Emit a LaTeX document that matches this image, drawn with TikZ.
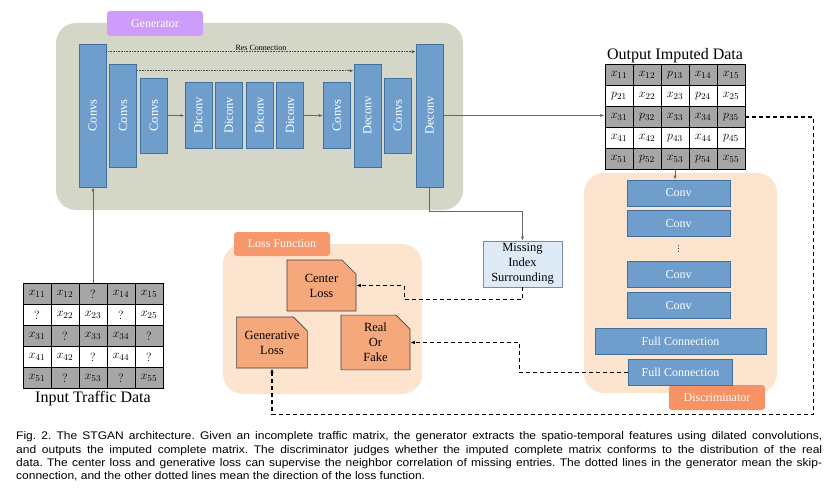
\documentclass[tikz,border=0pt]{standalone}
\usepackage{fontspec}
\setmainfont{Liberation Serif}
\newfontfamily\capfont{Liberation Sans}
\newfontfamily\symfont{DejaVu Sans}
\usetikzlibrary{positioning,matrix,shapes.misc,arrows.meta,calc}
\definecolor{blkfill}{RGB}{111,158,205}
\definecolor{blkdraw}{RGB}{65,113,156}
\definecolor{genbg}{RGB}{212,215,199}
\definecolor{genlab}{RGB}{206,156,250}
\definecolor{lossbg}{RGB}{252,228,206}
\definecolor{losslab}{RGB}{246,152,108}
\definecolor{lossfill}{RGB}{244,168,124}
\definecolor{disclab}{RGB}{246,146,100}
\definecolor{missfill}{RGB}{222,235,247}
\definecolor{missdraw}{RGB}{120,140,165}
\definecolor{cellgray}{RGB}{166,166,166}

\begin{document}
\begin{tikzpicture}[x=1pt,y=-1pt,
	blk/.style={draw=blkdraw, fill=blkfill, line width=0.6pt, minimum width=27pt, inner sep=0pt, text=white, font=\fontsize{12.5}{12.5}\selectfont},
	dbox/.style={draw=blkdraw, fill=blkfill, line width=0.6pt, minimum width=103pt, minimum height=26pt, inner sep=0pt, text=white, font=\fontsize{12}{12}\selectfont},
	lossbox/.style={chamfered rectangle, chamfered rectangle corners=north east, chamfered rectangle xsep=7pt, chamfered rectangle ysep=7pt, draw=black!75, fill=lossfill, line width=0.6pt, minimum width=69pt, minimum height=51pt, align=center, inner sep=1pt, font=\fontsize{12.5}{15}\selectfont},
	tagbox/.style={rounded corners=3pt, minimum width=96pt, minimum height=25pt, inner sep=0pt, text=white, font=\fontsize{12}{12}\selectfont},
	cell/.style={draw, line width=0.8pt, minimum width=28pt, minimum height=21pt, inner sep=0pt, anchor=center, font=\fontsize{13}{13}\selectfont},
	datam/.style={matrix of math nodes, nodes={cell}, inner sep=0pt, column sep=-0.8pt, row sep=-0.8pt,
		row 1/.style={nodes={fill=cellgray}}, row 3/.style={nodes={fill=cellgray}}, row 5/.style={nodes={fill=cellgray}}},
	flow/.style={draw=black!60, line width=0.6pt, -{Latex[length=4pt,width=3pt]}},
	resline/.style={draw=black!70, line width=0.6pt, densely dotted, -{Latex[length=4pt,width=3pt]}},
	lossline/.style={draw=black, line width=1.1pt, dash pattern=on 4pt off 3pt, -{Latex[length=4.5pt,width=3.5pt]}},
	]
	\useasboundingbox (0,0) rectangle (837,489);

	\fill[genbg, rounded corners=20pt] (56,23) rectangle (463,210);
	\fill[lossbg, rounded corners=20pt] (223,244) rectangle (422,394);
	\fill[lossbg, rounded corners=20pt] (584,173) rectangle (777,393);
	\node[tagbox, fill=genlab] (genlabel) at (155,23.5) {Generator};
	\node[tagbox, fill=losslab, minimum height=24pt] (losslabel) at (282,244) {Loss Function};
	\node[tagbox, fill=disclab] (disclabel) at (717,397.5) {Discriminator};

	\node[blk, minimum height=143pt] (c1) at (92.5,115.5) {\rotatebox{90}{Convs}};
	\node[blk, minimum height=103pt, right=3pt of c1] (c2) {\rotatebox{90}{Convs}};
	\node[blk, minimum height=75pt, right=3pt of c2] (c3) {\rotatebox{90}{Convs}};
	\node[blk, minimum height=66pt, right=17pt of c3] (d1) {\rotatebox{90}{Diconv}};
	\foreach \i [count=\j] in {2,3,4}
		\node[blk, minimum height=66pt, right=3pt of d\j] (d\i) {\rotatebox{90}{Diconv}};
	\node[blk, minimum height=66pt, right=19pt of d4] (c4) {\rotatebox{90}{Convs}};
	\node[blk, minimum height=103pt, right=3pt of c4] (dc1) {\rotatebox{90}{Deconv}};
	\node[blk, minimum height=75pt, right=3pt of dc1] (c5) {\rotatebox{90}{Convs}};
	\node[blk, minimum height=143pt, right=4pt of c5] (dc2) {\rotatebox{90}{Deconv}};

	\draw[flow] (c3) -- (d1);
	\draw[flow] (d4) -- (c4);
	\draw[resline] ([yshift=-8pt]c1.north east) -- ([yshift=-8pt]dc2.north west)
		node[midway, above, inner sep=1pt, text=black, font=\fontsize{8}{8}\selectfont] {Res Connection};
	\draw[resline] ([yshift=-7pt]c2.north east) -- ([yshift=-7pt]dc1.north west);

	\matrix (outm) [datam] at (675,117) {
		x_{11} & x_{12} & p_{13} & x_{14} & x_{15} \\
		p_{21} & x_{22} & x_{23} & p_{24} & x_{25} \\
		x_{31} & p_{32} & x_{33} & x_{34} & p_{35} \\
		x_{41} & x_{42} & p_{43} & x_{44} & p_{45} \\
		x_{51} & p_{52} & x_{53} & p_{54} & x_{55} \\
	};
	\node[above=1pt of outm, inner sep=0pt, font=\fontsize{16}{16}\selectfont] (outtitle) {Output Imputed Data};

	\matrix (inm) [datam] at (93,336) {
		x_{11} & x_{12} & ? & x_{14} & x_{15} \\
		? & x_{22} & x_{23} & ? & x_{25} \\
		x_{31} & ? & x_{33} & x_{34} & ? \\
		x_{41} & x_{42} & ? & x_{44} & ? \\
		x_{51} & ? & x_{53} & ? & x_{55} \\
	};
	\node[below=2pt of inm, inner sep=0pt, font=\fontsize{16}{16}\selectfont] (intitle) {Input Traffic Data};

	\node[dbox] (dv1) at (678.5,193) {Conv};
	\node[dbox, below=4pt of dv1] (dv2) {Conv};
	\node[dbox] (dv3) at (678.5,274.5) {Conv};
	\node[dbox, below=4pt of dv3] (dv4) {Conv};
	\node[font=\symfont\fontsize{8}{8}\selectfont, inner sep=0pt] (vdots) at ($(dv2.south)!0.5!(dv3.north)$) {⋮};
	\node[dbox, minimum width=171pt, below=10pt of dv4, xshift=2pt] (fc1) {Full Connection};
	\node[dbox, minimum width=104pt, below=4pt of fc1] (fc2) {Full Connection};

	\node[lossbox] (closs) at (321.5,285.5) {Center\\Loss};
	\node[lossbox] (gloss) at (272,342.5) {Generative\\Loss};
	\node[lossbox] (rof) at (375.5,342.5) {Real\\Or\\Fake};
	\node[draw=missdraw, fill=missfill, line width=0.6pt, minimum width=79pt, minimum height=46pt, inner sep=1pt, align=center, font=\fontsize{12.5}{15}\selectfont] (miss) at (522.5,264) {Missing\\Index\\Surrounding};

	\draw[flow] (inm.north) -- (inm.north |- c1.south);
	\draw[flow] (dc2.east) -- (dc2.east -| outm.west);
	\draw[flow] (dc2.south) -- ++(0,24) -| (miss.north);
	\draw[flow] (outm.south) -- (outm.south |- dv1.north);
	\draw[lossline] (miss.south) -- ++(0,12) -| ($(closs.east)+(48,0)$) -- (closs.east);
	\draw[lossline] (fc2.west) -| ($(rof.east)+(109,0)$) -- (rof.east);
	\draw[lossline] (outm-3-5.east) -- ++(68,0) |- ($(gloss.south)+(0,46)$) -- (gloss.south);

	\node[anchor=north west, inner sep=0pt] (caption) at (16,431.5) {\scalebox{1}[0.92]{\parbox{806pt}{\capfont\fontsize{12}{14.5}\selectfont\frenchspacing
		\makebox[806pt][s]{Fig. 2. The STGAN architecture. Given an incomplete traffic matrix, the generator extracts the spatio-temporal features using dilated convolutions,}\\
		\makebox[806pt][s]{and outputs the imputed complete matrix. The discriminator judges whether the imputed complete matrix conforms to the distribution of the real}\\
		\makebox[806pt][s]{data. The center loss and generative loss can supervise the neighbor correlation of missing entries. The dotted lines in the generator mean the skip-}\\
		connection, and the other dotted lines mean the direction of the loss function.}}};
\end{tikzpicture}
\end{document}
